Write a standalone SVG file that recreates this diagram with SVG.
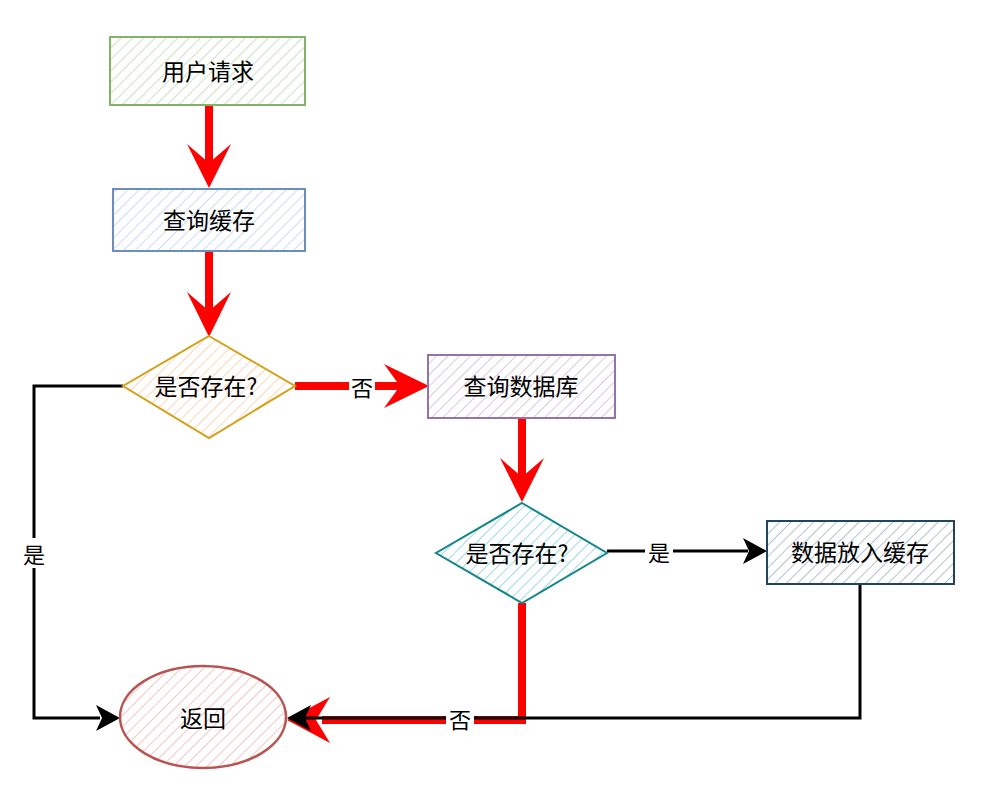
<svg xmlns="http://www.w3.org/2000/svg" width="982" height="794" viewBox="0 0 982 794">
<style>
.t{font-family:"Noto Sans CJK SC","Noto Sans",sans-serif;font-size:23px;fill:#000;text-anchor:middle;dominant-baseline:central}
.lbl{font-family:"Noto Sans CJK SC","Noto Sans",sans-serif;font-size:22px;fill:#000;text-anchor:middle;dominant-baseline:central}
.red{fill:none;stroke:#ff0000;stroke-width:8}
.blk{fill:none;stroke:#000;stroke-width:3}
.ra{fill:#ff0000}
.ba{fill:#000}
</style>
<defs>
<pattern id="hg" patternUnits="userSpaceOnUse" width="8" height="8" patternTransform="rotate(45)"><rect width="8" height="8" fill="#fff"/><line x1="0" y1="0" x2="0" y2="8" stroke="#c9e3c1" stroke-width="2"/></pattern>
<pattern id="hb" patternUnits="userSpaceOnUse" width="8" height="8" patternTransform="rotate(45)"><rect width="8" height="8" fill="#fff"/><line x1="0" y1="0" x2="0" y2="8" stroke="#c8dcf6" stroke-width="2"/></pattern>
<pattern id="ho" patternUnits="userSpaceOnUse" width="8" height="8" patternTransform="rotate(45)"><rect width="8" height="8" fill="#fff"/><line x1="0" y1="0" x2="0" y2="8" stroke="#fbd7b8" stroke-width="2"/></pattern>
<pattern id="hp" patternUnits="userSpaceOnUse" width="8" height="8" patternTransform="rotate(45)"><rect width="8" height="8" fill="#fff"/><line x1="0" y1="0" x2="0" y2="8" stroke="#d8c9e0" stroke-width="2"/></pattern>
<pattern id="ht" patternUnits="userSpaceOnUse" width="8" height="8" patternTransform="rotate(45)"><rect width="8" height="8" fill="#fff"/><line x1="0" y1="0" x2="0" y2="8" stroke="#a2dadd" stroke-width="2"/></pattern>
<pattern id="hs" patternUnits="userSpaceOnUse" width="8" height="8" patternTransform="rotate(45)"><rect width="8" height="8" fill="#fff"/><line x1="0" y1="0" x2="0" y2="8" stroke="#b3c2ce" stroke-width="2"/></pattern>
<pattern id="hr" patternUnits="userSpaceOnUse" width="8" height="8" patternTransform="rotate(45)"><rect width="8" height="8" fill="#fff"/><line x1="0" y1="0" x2="0" y2="8" stroke="#f4c6c4" stroke-width="2"/></pattern>
</defs>
<rect width="982" height="794" fill="#fff"/>

<g id="edges">
<path class="red" d="M209,105 V176"/>
<polygon class="ra" points="209,188 187,144 209,163 231,144"/>
<path class="red" d="M209,251 V325"/>
<polygon class="ra" points="209,337 187,292 209,311 231,292"/>
<path class="red" d="M295,386 H400"/>
<polygon class="ra" points="429,386 384,364 400,386 384,408"/>
<rect x="349" y="372" width="26" height="28" fill="#fff"/>
<text class="lbl" x="362" y="386">否</text>
<path class="red" d="M522,418 V490"/>
<polygon class="ra" points="522,502 500,458 522,477 544,458"/>
<path class="blk" d="M123,386 H34 V718 H100"/>
<polygon class="ba" points="120,718 96,705 102,718 96,731"/>
<rect x="20" y="538" width="28" height="30" fill="#fff"/>
<text class="lbl" x="34" y="553">是</text>
<path class="blk" d="M607,551 H748"/>
<polygon class="ba" points="767,551 743,538 749,551 743,564"/>
<rect x="645" y="537" width="28" height="28" fill="#fff"/>
<text class="lbl" x="659" y="551">是</text>
<path class="red" d="M522,603 V720 H322"/>
<polygon class="ra" points="287,720 330,697 316,720 330,743"/>
<path class="blk" d="M860,584 V718 H305"/>
<polygon class="ba" points="287,718 311,705 305,718 311,731"/>
<rect x="446" y="703" width="28" height="30" fill="#fff"/>
<text class="lbl" x="460" y="718">否</text>
</g>

<g id="n1">
<rect x="110" y="37" width="195" height="68" fill="url(#hg)" stroke="#82b366" stroke-width="2"/>
<text class="t" x="208" y="70">用户请求</text>
</g>
<g id="n2">
<rect x="113" y="189" width="192" height="62" fill="url(#hb)" stroke="#6c8ebf" stroke-width="2"/>
<text class="t" x="209" y="219">查询缓存</text>
</g>
<g id="d1">
<polygon points="209,336 295,386 209,438 123,386" fill="url(#ho)" stroke="#d4a017" stroke-width="2"/>
<text class="t" x="206" y="385">是否存在?</text>
</g>
<g id="n3">
<rect x="428" y="355" width="187" height="63" fill="url(#hp)" stroke="#9673a6" stroke-width="2"/>
<text class="t" x="521" y="385">查询数据库</text>
</g>
<g id="d2">
<polygon points="522,503 607,553 522,603 436,553" fill="url(#ht)" stroke="#14868c" stroke-width="2"/>
<text class="t" x="517" y="552">是否存在?</text>
</g>
<g id="n4">
<rect x="767" y="521" width="187" height="63" fill="url(#hs)" stroke="#23445d" stroke-width="2"/>
<text class="t" x="860" y="551">数据放入缓存</text>
</g>
<g id="n5">
<ellipse cx="203" cy="717" rx="83" ry="51" fill="url(#hr)" stroke="#b85450" stroke-width="2.5"/>
<text class="t" x="203" y="717">返回</text>
</g>
</svg>
